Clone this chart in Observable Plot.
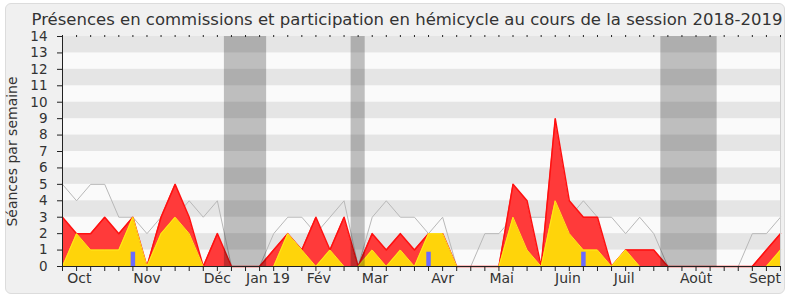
<!DOCTYPE html>
<html><head><meta charset="utf-8">
<script src="https://cdn.jsdelivr.net/npm/d3@7"></script>
<script src="https://cdn.jsdelivr.net/npm/@observablehq/plot@0.6"></script>
<style>
body{margin:0;background:#fff;font-family:"DejaVu Sans",sans-serif;}
#frame{position:absolute;left:5px;top:3px;width:780px;height:291px;background:#f0f0f0;border:1px solid #dcdcdc;border-radius:6px;box-sizing:border-box;}
#title{position:absolute;left:12px;top:11.5px;width:790px;text-align:center;font-size:16.5px;line-height:16px;color:#333;white-space:nowrap;}
#chart{position:absolute;left:0;top:20px;}
</style></head><body>
<div id="frame"></div>
<div id="chart"></div>
<div id="title">Présences en commissions et participation en hémicycle au cours de la session 2018-2019</div>
<script>
// Weekly values (week 0 = first week of October 2018)
const hemicycle = [3,2,2,3,2,3,0,3,5,3,0,2,0,0,0,1,2,1,3,1,3,0,2,1,2,1,2,2,0,0,0,0,5,4,0,9,4,3,3,0,1,1,1,0,0,0,0,0,0,0,1,2];
const commission = [0,2,1,1,1,3,0,2,3,2,0,0,0,0,0,0,2,1,0,1,0,0,1,0,1,0,2,2,0,0,0,0,3,1,0,4,2,1,1,0,1,0,0,0,0,0,0,0,0,0,0,1];
const mediane = [5,4,5,5,3,3,2,3,3,4,3,4,0,0,0,2,3,3,2,3,4,0,3,4,3,3,2,3,0,0,2,2,3,3,3,3,3,4,3,3,2,3,2,0,0,0,0,0,0,2,2,3];
const questionWeeks = [5,26,37];
const questionValues = [0.87,0.87,0.87];
const vacanceStart = [11.5,20.5,42.5];
const vacanceEnd = [14.5,21.5,46.5];
const monthPos = [1.2,6.0,11.0,14.6,18.2,22.2,27.0,31.2,35.9,39.9,45.0,49.9];
const monthLabels = ["Oct","Nov","Déc","Jan 19","Fév","Mar","Avr","Mai","Juin","Juil","Août","Sept"];
const yTicks = [0,1,2,3,4,5,6,7,8,9,10,11,12,13,14];

const weeks = hemicycle.map((d,i)=>i);
const darkBands = [1,3,5,7,9,11,13];

const chart = Plot.plot({
  width: 790, height: 280,
  marginTop: 16, marginBottom: 34, marginLeft: 62, marginRight: 10,
  style: {background: "transparent", fontFamily: "DejaVu Sans, sans-serif", fontSize: "14px", color: "#333"},
  x: {domain: [0, 51], axis: null},
  y: {domain: [0, 14], axis: null},
  marks: [
    Plot.frame({fill: "#fafafa", stroke: null}),
    Plot.rect(darkBands, {y1: d => d, y2: d => d + 1, fill: "#e5e5e5"}),
    Plot.lineY(mediane, {x: (d,i) => i, y: d => d, stroke: "#b8b8b8", strokeWidth: 1}),
    Plot.area(hemicycle, {x1: (d,i) => i, y1: 0, y2: d => d, fill: "#ff3a3a"}),
    Plot.lineY(hemicycle, {x: (d,i) => i, y: d => d, stroke: "#ff1010", strokeWidth: 1.5}),
    Plot.area(commission, {x1: (d,i) => i, y1: 0, y2: d => d, fill: "#ffd40a"}),
    Plot.lineY(commission, {x: (d,i) => i, y: d => d, stroke: "#ffe81a", strokeWidth: 1}),
    Plot.ruleX(questionWeeks, {x: d => d, y1: 0, y2: (d,i) => questionValues[i], stroke: "#6b6bff", strokeWidth: 4.5}),
    Plot.rect(vacanceStart, {x1: d => d, x2: (d,i) => vacanceEnd[i], fill: "#000", fillOpacity: 0.24}),
    Plot.ruleX([51], {stroke: "#d0d0d0"}),
    Plot.ruleY([0], {stroke: "#222"}),
    Plot.ruleX([0], {stroke: "#222"}),
    Plot.axisX({ticks: weeks, tickSize: 5, tickFormat: () => "", stroke: "#222"}),
    Plot.axisX({anchor: "top", ticks: weeks, tickSize: 2, tickFormat: () => "", stroke: "#222"}),
    Plot.axisX({ticks: monthPos, tickSize: 0, tickPadding: 7, tickFormat: d => monthLabels[monthPos.indexOf(d)], fontSize: 14, fill: "#333"}),
    Plot.axisY({ticks: yTicks, tickSize: 5, tickPadding: 10, fontSize: 13.5, fill: "#333", stroke: "#222"}),
    Plot.text(["Séances par semaine"], {frameAnchor: "left", dx: -49.5, rotate: -90, textAnchor: "middle", fontSize: 14, fill: "#333"})
  ]
});
document.getElementById("chart").appendChild(chart);
</script>
</body></html>
